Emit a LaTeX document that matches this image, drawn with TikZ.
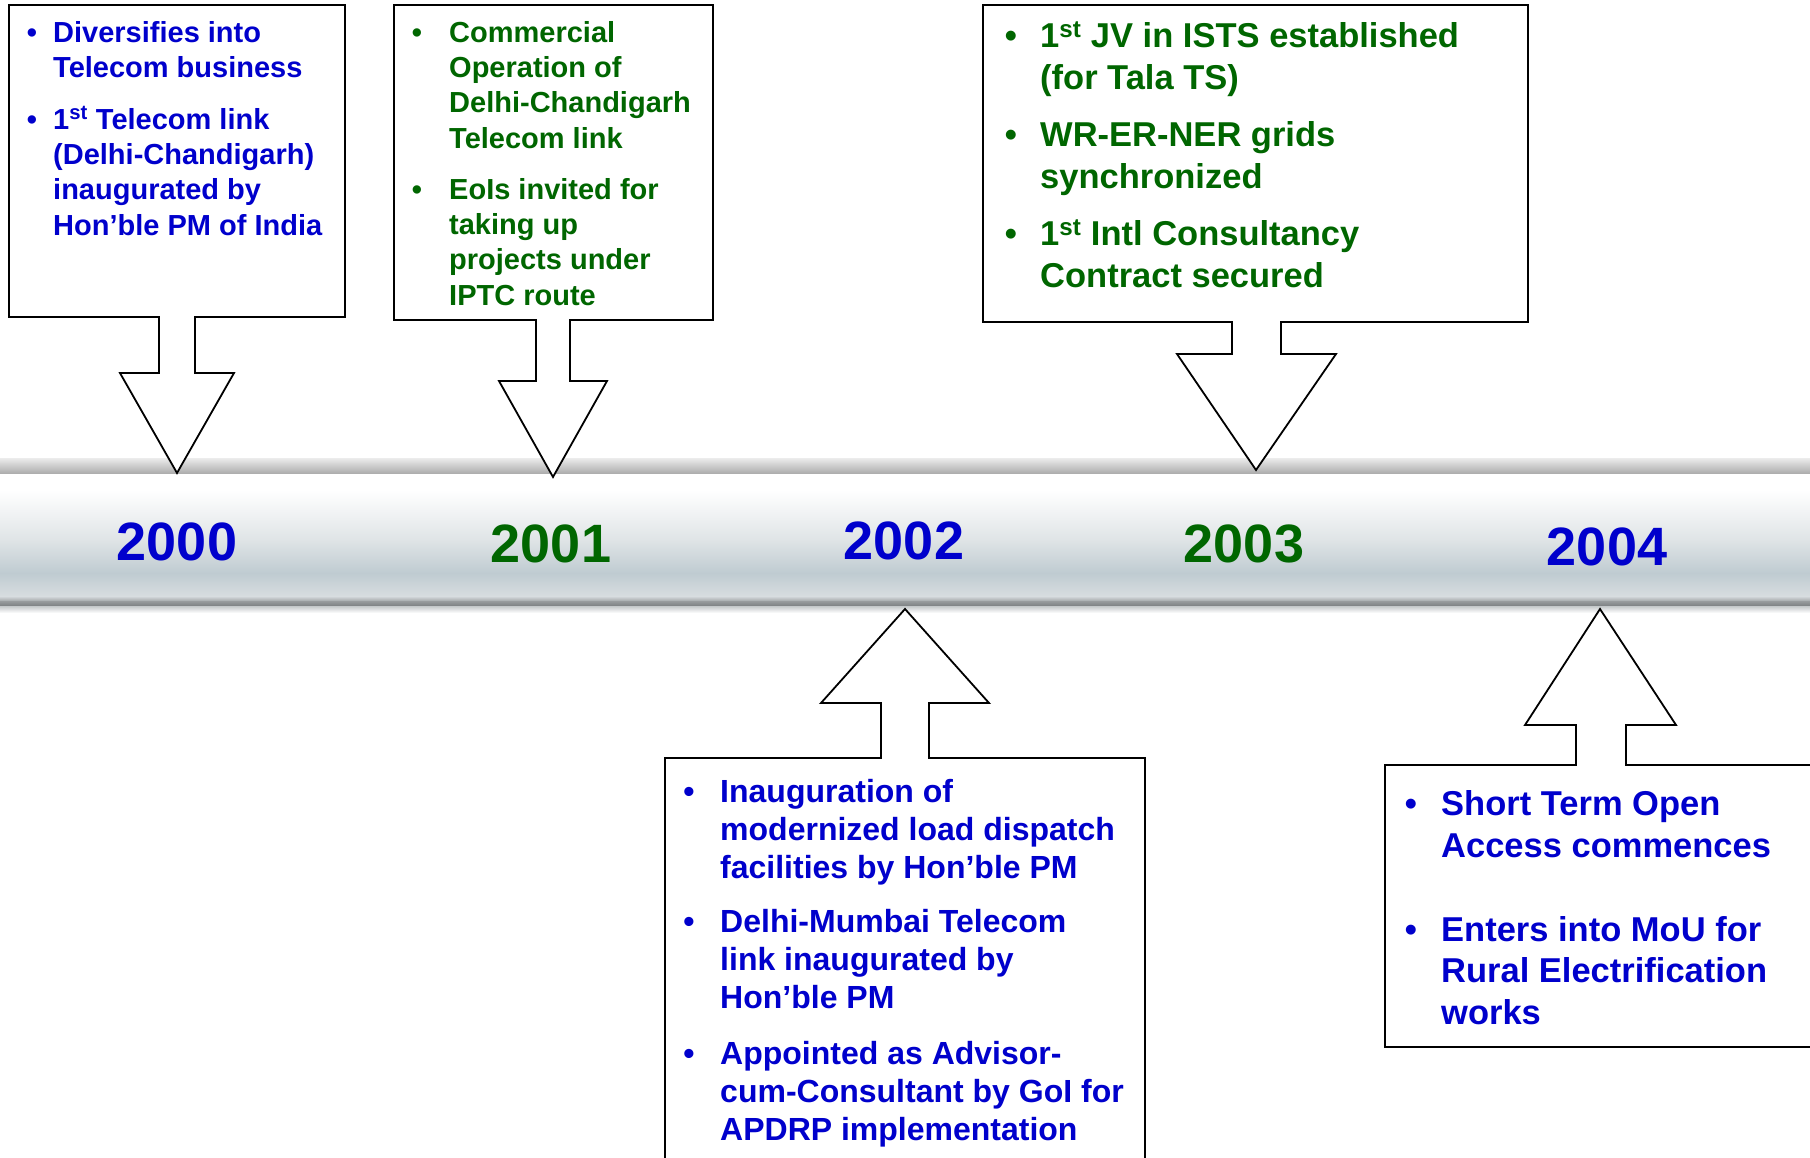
\documentclass[tikz,border=0pt]{standalone}
\usepackage{fontspec}
\setmainfont{Liberation Sans}
\definecolor{tblue}{RGB}{0,0,204}
\definecolor{tgreen}{RGB}{0,102,0}
\definecolor{bandA}{HTML}{ECECEC}
\definecolor{bandB}{HTML}{A8A8A8}
\definecolor{bandC}{HTML}{DFE4E6}
\definecolor{bandD}{HTML}{BFCBD1}
\definecolor{bandE}{HTML}{D8DDE0}
\definecolor{bandF}{HTML}{A0A4A6}
\definecolor{bandG}{HTML}{7A7E80}
\definecolor{bandH}{HTML}{C4C8CA}
\newcommand\bitem[7]{%
  \node[#2,anchor=base] (#1b) at (#3,#5) {•};
  \foreach \ln [count=\k from 0] in {#7}{%
    \node[#2,anchor=base west] (#1\k) at (#4,{#5+\k*#6}) {\ln};}%
}
\begin{document}
\begin{tikzpicture}[x=1pt,y=-1pt,
  callout/.style={draw=black,fill=white,line width=1.8pt,line join=miter},
  s29b/.style={inner sep=0pt,text=tblue,font=\fontsize{29}{35}\selectfont\bfseries},
  s29g/.style={inner sep=0pt,text=tgreen,font=\fontsize{29}{35}\selectfont\bfseries},
  s34g/.style={inner sep=0pt,text=tgreen,font=\fontsize{34.5}{41}\selectfont\bfseries},
  s32b/.style={inner sep=0pt,text=tblue,font=\fontsize{32}{38}\selectfont\bfseries},
  s34b/.style={inner sep=0pt,text=tblue,font=\fontsize{34.5}{41}\selectfont\bfseries},
  year/.style={inner sep=0pt,font=\fontsize{54}{60}\selectfont\bfseries}]
\useasboundingbox (0,0) rectangle (1810,1157);
\clip (0,0) rectangle (1810,1157);
\fill[white] (0,0) rectangle (1810,1157);
% timeline band
\shade[top color=bandA,bottom color=bandB] (0,458) rectangle (1810,474.5);
\fill[white] (0,474) rectangle (1810,490.5);
\shade[top color=white,bottom color=bandC] (0,490) rectangle (1810,540.5);
\shade[top color=bandC,bottom color=bandD] (0,540) rectangle (1810,573.5);
\shade[top color=bandD,bottom color=bandE] (0,573) rectangle (1810,596.5);
\shade[top color=bandE,bottom color=bandF] (0,596) rectangle (1810,601.5);
\shade[top color=bandF!80!bandG,bottom color=bandG] (0,601) rectangle (1810,606.5);
\shade[top color=bandH,bottom color=white] (0,606) rectangle (1810,613);
% callouts
\path[callout] (9,5) -- (345,5) -- (345,317) -- (195,317) -- (195,373) -- (234,373)
  -- (177,473) -- (120,373) -- (159,373) -- (159,317) -- (9,317) -- cycle;
\path[callout] (394,5) -- (713,5) -- (713,320) -- (570,320) -- (570,381) -- (607,381)
  -- (553,477) -- (499,381) -- (536,381) -- (536,320) -- (394,320) -- cycle;
\path[callout] (983,5) -- (1528,5) -- (1528,322) -- (1281,322) -- (1281,354) -- (1336,354)
  -- (1256,470) -- (1177,354) -- (1232,354) -- (1232,322) -- (983,322) -- cycle;
\path[callout] (665,1175) -- (665,758) -- (881,758) -- (881,703) -- (821,703) -- (905,609)
  -- (989,703) -- (929,703) -- (929,758) -- (1145,758) -- (1145,1175) -- cycle;
\path[callout] (1385,1047) -- (1385,765) -- (1576,765) -- (1576,725) -- (1525,725) -- (1600,609)
  -- (1676,725) -- (1626,725) -- (1626,765) -- (1830,765) -- (1830,1047) -- cycle;
% years
\node[year,text=tblue]  (y2000) at (177,542) {2000};
\node[year,text=tgreen] (y2001) at (551,544) {2001};
\node[year,text=tblue]  (y2002) at (904,541) {2002};
\node[year,text=tgreen] (y2003) at (1244,544) {2003};
\node[year,text=tblue]  (y2004) at (1607,547) {2004};
% box 2000
\bitem{pa}{s29b}{32}{53}{42}{35.4}{{Diversifies into},{Telecom business}}
\bitem{pb}{s29b}{32}{53}{129}{35.4}{{1\textsuperscript{st} Telecom link},{(Delhi-Chandigarh)},{inaugurated by},{Hon’ble PM of India}}
% box 2001
\bitem{qa}{s29g}{417}{449}{42}{35.4}{{Commercial},{Operation of},{Delhi-Chandigarh},{Telecom link}}
\bitem{qb}{s29g}{417}{449}{199}{35.4}{{EoIs invited for},{taking up},{projects under},{IPTC route}}
% box 2003
\bitem{ra}{s34g}{1011}{1040}{47}{42}{{1\textsuperscript{st} JV in ISTS established},{(for Tala TS)}}
\bitem{rb}{s34g}{1011}{1040}{146}{42}{{WR-ER-NER grids},{synchronized}}
\bitem{rc}{s34g}{1011}{1040}{245}{42}{{1\textsuperscript{st} Intl Consultancy},{Contract secured}}
% box 2002
\bitem{sa}{s32b}{689}{720}{802}{38.1}{{Inauguration of},{modernized load dispatch},{facilities by Hon’ble PM}}
\bitem{sb}{s32b}{689}{720}{932}{38.1}{{Delhi-Mumbai Telecom},{link inaugurated by},{Hon’ble PM}}
\bitem{sc}{s32b}{689}{720}{1064}{38.1}{{Appointed as Advisor-},{cum-Consultant by GoI for},{APDRP implementation}}
% box 2004
\bitem{ta}{s34b}{1411}{1441}{815}{42}{{Short Term Open},{Access commences}}
\bitem{tb}{s34b}{1411}{1441}{941}{41.9}{{Enters into MoU for},{Rural Electrification},{works}}
\end{tikzpicture}
\end{document}
